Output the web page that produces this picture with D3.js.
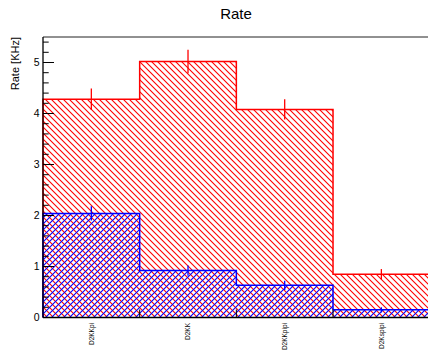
<!DOCTYPE html>
<html>
<head>
<meta charset="utf-8">
<script src="https://cdn.jsdelivr.net/npm/d3@7"></script>
<style>
  html, body { margin: 0; padding: 0; background: #fff; }
  svg { display: block; font-family: "Liberation Sans", Arial, sans-serif; }
</style>
</head>
<body>
<svg id="chart" width="428" height="352"></svg>
<script>
// ---- data ----
const categories = ["D2KKpi", "D2KK", "D2KKpipi", "D2Kspipi"];
const redValues  = [4.28, 5.02, 4.08, 0.85];
const redErrors  = [0.21, 0.23, 0.20, 0.10];
const blueValues = [2.04, 0.92, 0.63, 0.15];
const blueErrors = [0.14, 0.10, 0.09, 0.05];
const yTicks = [0, 1, 2, 3, 4, 5];
const yMax = 5.5;
const title = "Rate";
const yTitle = "Rate [KHz]";

// ---- layout ----
const svg = d3.select("#chart");
const mLeft = 43, mRight = 429.7, mTop = 37, mBottom = 317.5;

const x = d3.scaleLinear().domain([0, categories.length]).range([mLeft, mRight]);
const y = d3.scaleLinear().domain([0, yMax]).range([mBottom, mTop]);

// patterns
const defs = svg.append("defs");
const pr = defs.append("pattern").attr("id", "hatchRed")
  .attr("patternUnits", "userSpaceOnUse").attr("width", 6).attr("height", 6);
pr.append("path").attr("d", "M0,0 L6,6 M-1,5 L1,7 M5,-1 L7,1")
  .attr("stroke", "#ff0000").attr("stroke-width", 1.1).attr("fill", "none");
const pb = defs.append("pattern").attr("id", "hatchBlue")
  .attr("patternUnits", "userSpaceOnUse").attr("width", 6).attr("height", 6)
  .attr("x", 3);
pb.append("path").attr("d", "M0,6 L6,0 M-1,1 L1,-1 M5,7 L7,5")
  .attr("stroke", "#0000ff").attr("stroke-width", 1.1).attr("fill", "none");

function stepPoints(vals) {
  const pts = [[x(0), y(0)]];
  vals.forEach((v, i) => { pts.push([x(i), y(v)]); pts.push([x(i + 1), y(v)]); });
  pts.push([x(vals.length), y(0)]);
  return pts;
}
const line = d3.line();

function drawHist(vals, errs, color, pattern) {
  const pts = stepPoints(vals);
  svg.append("path").attr("d", line(pts) + "Z")
    .attr("fill", `url(#${pattern})`).attr("stroke", "none");
  svg.append("path").attr("d", line(pts))
    .attr("fill", "none").attr("stroke", color).attr("stroke-width", 1.5);
  svg.append("g").selectAll("line").data(vals).join("line")
    .attr("x1", (d, i) => x(i + 0.5)).attr("x2", (d, i) => x(i + 0.5))
    .attr("y1", (d, i) => y(d - errs[i])).attr("y2", (d, i) => y(d + errs[i]))
    .attr("stroke", color).attr("stroke-width", 1.3);
}

drawHist(redValues, redErrors, "#ff0000", "hatchRed");
drawHist(blueValues, blueErrors, "#0000ff", "hatchBlue");

// frame top
svg.append("line").attr("x1", mLeft).attr("x2", mRight).attr("y1", mTop).attr("y2", mTop)
  .attr("stroke", "#222").attr("stroke-width", 1);

// y axis
const gy = svg.append("g");
gy.append("line").attr("x1", mLeft).attr("x2", mLeft).attr("y1", mTop).attr("y2", mBottom)
  .attr("stroke", "#000").attr("stroke-width", 1.3);
const minor = d3.range(0, yMax + 1e-9, 0.2).filter(v => Math.abs(v - Math.round(v)) > 1e-6);
gy.selectAll("line.minor").data(minor).join("line").attr("class", "minor")
  .attr("x1", mLeft).attr("x2", mLeft + 5.7).attr("y1", d => y(d)).attr("y2", d => y(d))
  .attr("stroke", "#000").attr("stroke-width", 1);
gy.selectAll("line.major").data(yTicks).join("line").attr("class", "major")
  .attr("x1", mLeft).attr("x2", mLeft + 11).attr("y1", d => y(d)).attr("y2", d => y(d))
  .attr("stroke", "#000").attr("stroke-width", 1);
gy.selectAll("text").data(yTicks).join("text")
  .attr("x", 39.5).attr("y", d => y(d)).attr("dy", "0.36em")
  .attr("text-anchor", "end").attr("font-size", 10.5).attr("fill", "#000")
  .text(d => d);

// x axis
const gx = svg.append("g");
gx.append("line").attr("x1", mLeft).attr("x2", mRight).attr("y1", mBottom).attr("y2", mBottom)
  .attr("stroke", "#000").attr("stroke-width", 1.5);
gx.selectAll("line.tick").data(d3.range(1, categories.length)).join("line").attr("class", "tick")
  .attr("x1", d => x(d)).attr("x2", d => x(d)).attr("y1", mBottom).attr("y2", mBottom - 8)
  .attr("stroke", "#000").attr("stroke-width", 1);
gx.selectAll("text").data(categories).join("text")
  .attr("transform", (d, i) => `translate(${x(i + 0.5) + 2.3},${mBottom + 5.5}) rotate(-90)`)
  .attr("text-anchor", "end").attr("font-size", 6.5).attr("fill", "#000")
  .text(d => d);

// titles
svg.append("text").attr("x", 236).attr("y", 19).attr("text-anchor", "middle")
  .attr("font-size", 15).attr("fill", "#000").text(title);
svg.append("text").attr("transform", `translate(19,${mTop}) rotate(-90)`)
  .attr("text-anchor", "end").attr("font-size", 11).attr("fill", "#000").text(yTitle);
</script>
</body>
</html>
